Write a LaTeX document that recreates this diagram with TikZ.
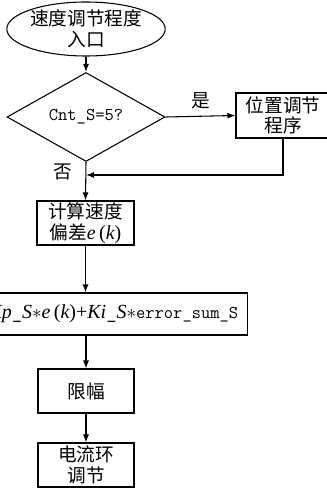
\documentclass[tikz,border=0pt]{standalone}
\usepackage{fontspec}
\newfontfamily\cjk{Noto Sans CJK SC}
\newfontfamily\tms{Liberation Serif}
\usetikzlibrary{shapes.geometric,arrows.meta}
\tikzset{
  box/.style={draw, line width=0.8pt, rectangle, inner sep=0pt, align=center, font=\cjk\fontsize{14}{15.5}\selectfont},
  conn/.style={line width=0.8pt, -{Latex[length=6pt,width=4.5pt]}},
  lbl/.style={font=\cjk\fontsize{14}{15.5}\selectfont, inner sep=0pt}
}
\newcommand{\tvar}[1]{{\tms\itshape #1}}
\newcommand{\tund}{{\ttfamily\_}}
\begin{document}
\begin{tikzpicture}[x=0.75pt,y=-0.75pt]
\useasboundingbox (0,0) rectangle (327,488);
\clip (0,0) rectangle (327,488);
\node[box, ellipse, minimum width=102.75pt, minimum height=40.5pt] (start) at (86,29) {速度调节程度\\入口};
\node[box, diamond, minimum width=118.5pt, minimum height=47.25pt, font=\ttfamily\fontsize{13.5}{15}\selectfont] (dec) at (86,117) {Cnt\_S=5?};
\node[box, minimum width=70.5pt, minimum height=33.75pt] (pos) at (283,115.5) {位置调节\\程序};
\node[box, minimum width=72.75pt, minimum height=33pt] (calc) at (85.5,223) {计算速度\\偏差{\fontsize{15}{15}\selectfont\tvar{e}\,{\tms(}\tvar{k}{\tms)}}};
\node[box, anchor=east, inner xsep=7pt, minimum height=31.5pt, font=\tms\fontsize{15}{16}\selectfont] (pid) at (248,314) {\tvar{Kp}\tund\tvar{S}$\ast$\tvar{e}\,(\tvar{k})+\tvar{Ki}\tund\tvar{S}$\ast${\ttfamily\fontsize{13.5}{15}\selectfont error\_sum\_S}};
\node[box, minimum width=72pt, minimum height=33pt] (lim) at (86,391) {限幅};
\node[box, minimum width=72pt, minimum height=33pt] (cur) at (86,465) {电流环\\调节};
\coordinate (j) at (86,175);
\draw[conn] (start) -- (dec);
\draw[conn] (dec.east) -- (pos.west) node[lbl, midway, above=5pt] {是};
\draw[conn] (pos.south) |- (j);
\node[lbl] (no) at (63,172) {否};
\draw[conn] (dec.south) -- (calc.north);
\draw[conn] (calc.south) -- (calc.south |- pid.north);
\draw[conn] (lim.north |- pid.south) -- (lim.north);
\draw[conn] (lim.south) -- (cur.north);
\end{tikzpicture}
\end{document}
